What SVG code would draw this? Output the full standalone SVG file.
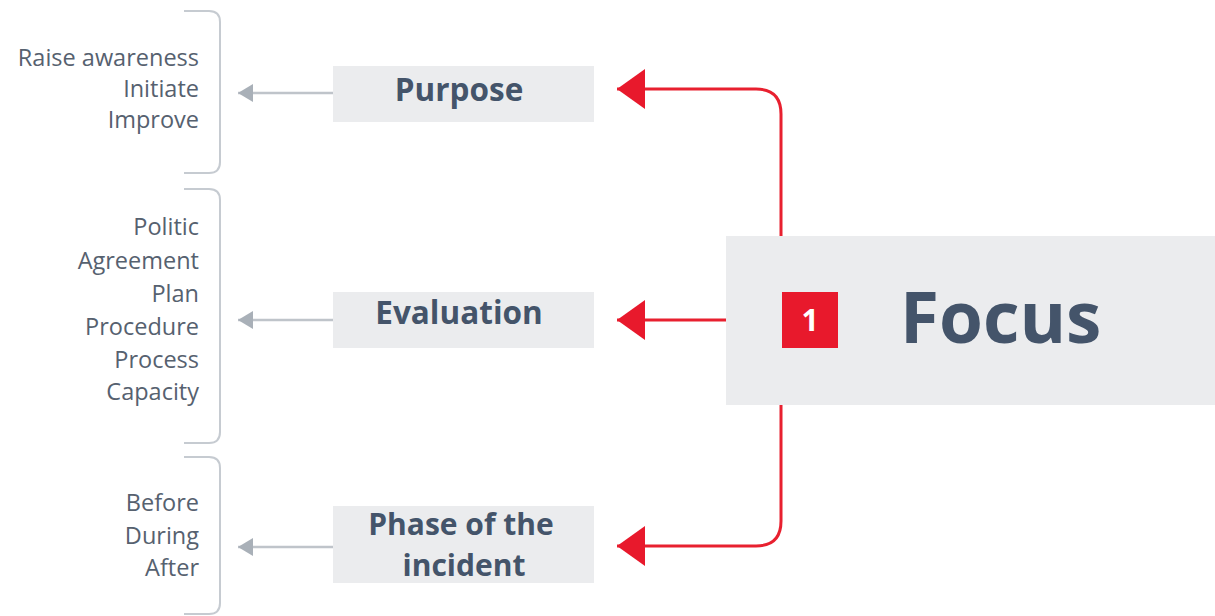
<svg xmlns="http://www.w3.org/2000/svg" width="1215" height="616" viewBox="0 0 1215 616">
<defs>
<style>
.box{fill:#ebecee}
.lbl{font-family:"Open Sans","Noto Sans",sans-serif;font-weight:bold;fill:#44546a;font-size:31.5px;text-anchor:middle}
.lst{font-family:"Open Sans","Noto Sans",sans-serif;fill:#56616f;font-size:23.5px;text-anchor:end}
.br{fill:none;stroke:#c6cbd1;stroke-width:2}
.ga{fill:none;stroke:#bfc4ca;stroke-width:2.5}
.ra{fill:none;stroke:#e8202f;stroke-width:3}
</style>
<marker id="gh" markerWidth="16" markerHeight="20" refX="15" refY="10" orient="auto" markerUnits="userSpaceOnUse"><path d="M0,1 L15,10 L0,19 Z" fill="#a9b0b8"/></marker>
<marker id="rh" markerWidth="30" markerHeight="42" refX="28" refY="21" orient="auto" markerUnits="userSpaceOnUse"><path d="M0,1 L28,21 L0,41 Z" fill="#e8192c"/></marker>
</defs>
<rect width="1215" height="616" fill="#ffffff"/>
<g id="connectors">
<path class="ga" d="M333,93 L238,93" marker-end="url(#gh)"/>
<path class="ga" d="M333,320 L238,320" marker-end="url(#gh)"/>
<path class="ga" d="M333,547 L238,547" marker-end="url(#gh)"/>
<path class="ra" d="M781,236 L781,114 Q781,89 756,89 L617,89" marker-end="url(#rh)"/>
<path class="ra" d="M726,320 L617,320" marker-end="url(#rh)"/>
<path class="ra" d="M781,405 L781,521 Q781,546 756,546 L617,546" marker-end="url(#rh)"/>
</g>
<g id="bracket-purpose">
<path class="br" d="M184,11 L209,11 Q220,11 220,22 L220,162 Q220,173 209,173 L184,173"/>
<text class="lst" x="199" y="66">Raise awareness</text>
<text class="lst" x="199" y="97">Initiate</text>
<text class="lst" x="199" y="128">Improve</text>
</g>
<g id="bracket-evaluation">
<path class="br" d="M184,189 L209,189 Q220,189 220,200 L220,432 Q220,443 209,443 L184,443"/>
<text class="lst" x="199" y="235">Politic</text>
<text class="lst" x="199" y="269">Agreement</text>
<text class="lst" x="199" y="302">Plan</text>
<text class="lst" x="199" y="335">Procedure</text>
<text class="lst" x="199" y="368">Process</text>
<text class="lst" x="199" y="400">Capacity</text>
</g>
<g id="bracket-phase">
<path class="br" d="M184,457 L209,457 Q220,457 220,468 L220,603 Q220,614 209,614 L184,614"/>
<text class="lst" x="199" y="511">Before</text>
<text class="lst" x="199" y="544">During</text>
<text class="lst" x="199" y="576">After</text>
</g>
<g id="node-purpose">
<rect class="box" x="333" y="66" width="261" height="56"/>
<text class="lbl" x="459" y="101">Purpose</text>
</g>
<g id="node-evaluation">
<rect class="box" x="333" y="292" width="261" height="56"/>
<text class="lbl" x="459" y="324">Evaluation</text>
</g>
<g id="node-phase">
<rect class="box" x="333" y="506" width="261" height="77"/>
<text class="lbl" x="461" y="535" style="font-size:30px">Phase of the</text>
<text class="lbl" x="464" y="576" style="font-size:30px">incident</text>
</g>
<g id="node-focus">
<rect class="box" x="726" y="236" width="489" height="169"/>
<rect x="782" y="292" width="56" height="56" fill="#e8192c"/>
<text x="810" y="331" font-family="Open Sans, Noto Sans, sans-serif" font-weight="bold" font-size="30" fill="#ffffff" text-anchor="middle">1</text>
<text x="900" y="343" font-family="Open Sans, Noto Sans, sans-serif" font-weight="bold" font-size="71" fill="#44546a">Focus</text>
</g>
</svg>
